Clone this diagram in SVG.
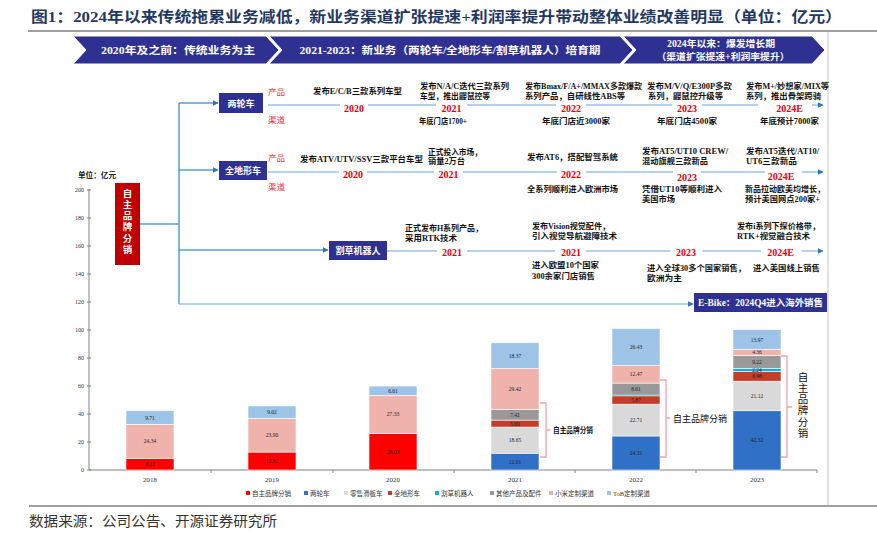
<svg xmlns="http://www.w3.org/2000/svg" width="877" height="533" viewBox="0 0 877 533">
<style>
text{font-family:"Liberation Serif","Noto Sans CJK SC",serif}
.title{font-size:15px;font-weight:bold;fill:#1f3864}
.ban{font-size:10.5px;font-weight:bold;fill:#fff;text-anchor:middle}
.chev{fill:#2f3192;stroke:#fff;stroke-width:1}
.box{fill:#2f3192}
.bt{font-size:9px;font-weight:bold;fill:#fff;text-anchor:middle}
.t{font-size:8px;fill:#111;font-weight:bold}
.pc{font-size:8.5px;fill:#e03a3a}
.yr{font-size:10px;font-weight:bold;fill:#e00010;text-anchor:middle}
.gap{fill:#fff}
.trunk{stroke:#5b9bd5;stroke-width:1.5;fill:none}
.row{stroke:#9dc3e6;stroke-width:1.5;fill:none}
.ax{stroke:#808080;stroke-width:1;fill:none}
.al{font-size:6px;fill:#333;text-anchor:end}
.xl{font-size:7px;fill:#333;text-anchor:middle}
.bl{font-size:5.5px;fill:#222;text-anchor:middle}
.bar rect{stroke:#fff;stroke-width:0.6}
.brk{stroke:#f2a3aa;stroke-width:1.3;fill:none}
.lg{font-size:6.5px;fill:#333}
.c1{fill:#ff0000}.c2{fill:#3070c6}.c3{fill:#d9d9d9}.c4{fill:#c43c2a}.c5{fill:#00b0f0}.c6{fill:#999999}.c7{fill:#efb3ac}.c8{fill:#9dc3e6}
</style>
<defs>
<marker id="ah" markerWidth="6" markerHeight="6" refX="5.5" refY="3" orient="auto" markerUnits="userSpaceOnUse"><path d="M0,0 L6,3 L0,6 z" fill="#2e75b6"/></marker>
</defs>
<rect width="877" height="533" fill="#fff"/>

<!-- title -->
<text class="title" x="31" y="22" textLength="811" lengthAdjust="spacingAndGlyphs">图1：2024年以来传统拖累业务减低，新业务渠道扩张提速+利润率提升带动整体业绩改善明显（单位：亿元）</text>
<line x1="28" y1="31" x2="877" y2="31" stroke="#7f7f7f" stroke-width="1.5"/>
<line x1="828" y1="32" x2="828" y2="505" stroke="#e3e3e3" stroke-width="2"/>

<!-- banner -->
<g id="banner">
<polygon class="chev" points="73,36 266,36 279,50 266,64 73,64 86,50"/>
<polygon class="chev" points="269,36 620,36 633,50 620,64 269,64 282,50"/>
<polygon class="chev" points="623,36 812,36 825,50 812,64 623,64 636,50"/>
<text class="ban" x="178" y="54" textLength="154" lengthAdjust="spacingAndGlyphs">2020年及之前：传统业务为主</text>
<text class="ban" x="450" y="54" textLength="301" lengthAdjust="spacingAndGlyphs">2021-2023：新业务（两轮车/全地形车/割草机器人）培育期</text>
<text class="ban" x="721" y="47" style="font-size:9.5px" textLength="108" lengthAdjust="spacingAndGlyphs">2024年以来：爆发增长期</text>
<text class="ban" x="723" y="60" style="font-size:9.5px" textLength="133" lengthAdjust="spacingAndGlyphs">（渠道扩张提速+利润率提升）</text>
</g>

<!-- connectors -->
<g id="connectors">
<line class="trunk" x1="179" y1="103" x2="179" y2="304"/>
<line class="trunk" x1="140" y1="224" x2="179" y2="224"/>
<line class="trunk" x1="179" y1="103" x2="218" y2="103" marker-end="url(#ah)"/>
<line class="trunk" x1="179" y1="170" x2="218" y2="170" marker-end="url(#ah)"/>
<line class="trunk" x1="179" y1="250" x2="328" y2="250" marker-end="url(#ah)"/>
<line class="row" x1="179" y1="304" x2="693" y2="304" marker-end="url(#ah)"/>
<line class="row" x1="268" y1="105" x2="823" y2="105" marker-end="url(#ah)"/>
<line class="row" x1="268" y1="172" x2="823" y2="172" marker-end="url(#ah)"/>
<line class="row" x1="387" y1="251" x2="823" y2="251" marker-end="url(#ah)"/>
</g>

<!-- nodes -->
<g id="node-brand">
<rect x="115" y="183" width="25" height="82" fill="#c00000"/>
<g class="bt" style="font-size:9.5px">
<text x="127.5" y="197">自</text><text x="127.5" y="208">主</text><text x="127.5" y="219">品</text>
<text x="127.5" y="230">牌</text><text x="127.5" y="242">分</text><text x="127.5" y="253">销</text>
</g>
</g>
<g id="node-twowheel">
<rect class="box" x="219" y="93" width="44" height="20"/>
<text class="bt" x="241" y="106.5">两轮车</text>
</g>
<g id="node-atv">
<rect class="box" x="219" y="161" width="48" height="19"/>
<text class="bt" x="243" y="174">全地形车</text>
</g>
<g id="node-mower">
<rect class="box" x="329" y="241" width="58" height="19"/>
<text class="bt" x="358" y="254">割草机器人</text>
</g>
<g id="node-ebike">
<rect class="box" x="694" y="293" width="133" height="19"/>
<text class="bt" x="760.5" y="306" style="font-size:9.5px" textLength="125" lengthAdjust="spacingAndGlyphs">E-Bike：2024Q4进入海外销售</text>
</g>

<!-- row 1 -->
<g id="row-twowheel">
<text class="pc" x="268" y="95">产品</text>
<text class="pc" x="268" y="123">渠道</text>
<rect class="gap" x="340" y="101" width="28" height="8"/>
<rect class="gap" x="436" y="101" width="31" height="8"/>
<rect class="gap" x="556" y="101" width="30" height="8"/>
<rect class="gap" x="672" y="101" width="30" height="8"/>
<rect class="gap" x="758" y="101" width="54" height="8"/>
<text class="yr" x="354" y="111.5">2020</text>
<text class="yr" x="451.5" y="111.5">2021</text>
<text class="yr" x="571" y="111.5">2022</text>
<text class="yr" x="687" y="111.5">2023</text>
<text class="yr" x="789.5" y="111.5">2024E</text>
<text class="t" x="313" y="94" textLength="89" lengthAdjust="spacingAndGlyphs">发布E/C/B三款系列车型</text>
<text class="t" x="420" y="89" textLength="89" lengthAdjust="spacingAndGlyphs">发布N/A/C迭代三款系列</text>
<text class="t" x="420" y="98.5" textLength="70" lengthAdjust="spacingAndGlyphs">车型，推出鼹鼠控等</text>
<text class="t" x="525" y="89" textLength="117" lengthAdjust="spacingAndGlyphs">发布Bmax/F/A+/MMAX多款爆款</text>
<text class="t" x="525" y="98.5" textLength="100" lengthAdjust="spacingAndGlyphs">系列产品，自研线性ABS等</text>
<text class="t" x="647" y="89" textLength="85" lengthAdjust="spacingAndGlyphs">发布M/V/Q/E300P多款</text>
<text class="t" x="648" y="98.5" textLength="75" lengthAdjust="spacingAndGlyphs">系列，鼹鼠控升级等</text>
<text class="t" x="746" y="89" textLength="83" lengthAdjust="spacingAndGlyphs">发布M+/妙想家/MIX等</text>
<text class="t" x="746" y="98.5" textLength="75" lengthAdjust="spacingAndGlyphs">系列，推出骨架跨骑</text>
<text class="t" x="419" y="124" textLength="48" lengthAdjust="spacingAndGlyphs">年底门店1700+</text>
<text class="t" x="542" y="124" textLength="68" lengthAdjust="spacingAndGlyphs">年底门店近3000家</text>
<text class="t" x="657" y="124" textLength="60" lengthAdjust="spacingAndGlyphs">年底门店4500家</text>
<text class="t" x="760" y="124" textLength="59" lengthAdjust="spacingAndGlyphs">年底预计7000家</text>
</g>

<!-- row 2 -->
<g id="row-atv">
<text class="pc" x="268" y="161">产品</text>
<text class="pc" x="268" y="190">渠道</text>
<rect class="gap" x="339" y="168" width="28" height="8"/>
<rect class="gap" x="434" y="168" width="29" height="8"/>
<rect class="gap" x="557" y="168" width="29" height="8"/>
<rect class="gap" x="673" y="168" width="28" height="8"/>
<rect class="gap" x="765" y="168" width="37" height="8"/>
<text class="yr" x="353" y="178">2020</text>
<text class="yr" x="448.5" y="178">2021</text>
<text class="yr" x="571" y="178">2022</text>
<text class="yr" x="687" y="181">2023</text>
<text class="yr" x="781" y="180">2024E</text>
<text class="t" x="300" y="162" textLength="123" lengthAdjust="spacingAndGlyphs">发布ATV/UTV/SSV三款平台车型</text>
<text class="t" x="428" y="155" textLength="54" lengthAdjust="spacingAndGlyphs">正式投入市场，</text>
<text class="t" x="428" y="164" textLength="37" lengthAdjust="spacingAndGlyphs">销量2万台</text>
<text class="t" x="527" y="160" textLength="91" lengthAdjust="spacingAndGlyphs">发布AT6，搭配智驾系统</text>
<text class="t" x="642" y="154" textLength="86" lengthAdjust="spacingAndGlyphs">发布AT5/UT10 CREW/</text>
<text class="t" x="642" y="164" textLength="66" lengthAdjust="spacingAndGlyphs">混动旗舰三款新品</text>
<text class="t" x="746" y="154" textLength="73" lengthAdjust="spacingAndGlyphs">发布AT5迭代/AT10/</text>
<text class="t" x="746" y="164" textLength="51" lengthAdjust="spacingAndGlyphs">UT6三款新品</text>
<text class="t" x="527" y="192" textLength="91" lengthAdjust="spacingAndGlyphs">全系列顺利进入欧洲市场</text>
<text class="t" x="642" y="192" textLength="80" lengthAdjust="spacingAndGlyphs">凭借UT10等顺利进入</text>
<text class="t" x="642" y="202" textLength="33" lengthAdjust="spacingAndGlyphs">美国市场</text>
<text class="t" x="745" y="192" textLength="80" lengthAdjust="spacingAndGlyphs">新品拉动欧美均增长，</text>
<text class="t" x="745" y="202" textLength="75" lengthAdjust="spacingAndGlyphs">预计美国网点200家+</text>
</g>

<!-- row 3 -->
<g id="row-mower">
<rect class="gap" x="437" y="247" width="30" height="8"/>
<rect class="gap" x="555" y="247" width="31" height="8"/>
<rect class="gap" x="670" y="247" width="32" height="8"/>
<rect class="gap" x="761" y="247" width="41" height="8"/>
<text class="yr" x="452" y="255.5">2021</text>
<text class="yr" x="571" y="255.5">2021</text>
<text class="yr" x="686" y="255.5">2023</text>
<text class="yr" x="780.5" y="255.5">2024E</text>
<text class="t" x="405" y="231" textLength="78" lengthAdjust="spacingAndGlyphs">正式发布H系列产品，</text>
<text class="t" x="405" y="241" textLength="52" lengthAdjust="spacingAndGlyphs">采用RTK技术</text>
<text class="t" x="532" y="229" textLength="78" lengthAdjust="spacingAndGlyphs">发布Vision视觉配件，</text>
<text class="t" x="532" y="239" textLength="85" lengthAdjust="spacingAndGlyphs">引入视觉导航避障技术</text>
<text class="t" x="737" y="229" textLength="83" lengthAdjust="spacingAndGlyphs">发布i系列下探价格带，</text>
<text class="t" x="737" y="239" textLength="73" lengthAdjust="spacingAndGlyphs">RTK+视觉融合技术</text>
<text class="t" x="532" y="268" textLength="67" lengthAdjust="spacingAndGlyphs">进入欧盟10个国家</text>
<text class="t" x="532" y="279" textLength="63" lengthAdjust="spacingAndGlyphs">300余家门店销售</text>
<text class="t" x="647" y="271" textLength="99" lengthAdjust="spacingAndGlyphs">进入全球30多个国家销售，</text>
<text class="t" x="647" y="281" textLength="35" lengthAdjust="spacingAndGlyphs">欧洲为主</text>
<text class="t" x="753" y="271" textLength="67" lengthAdjust="spacingAndGlyphs">进入美国线上销售</text>
</g>

<!-- chart axes -->
<g id="axes">
<text x="78" y="178" style="font-size:7.5px;fill:#222;font-weight:bold" textLength="38" lengthAdjust="spacingAndGlyphs">单位：亿元</text>
<line class="ax" x1="89" y1="189" x2="89" y2="470"/>
<line class="ax" x1="89" y1="470" x2="817" y2="470"/>
<path class="ax" d="M87,190H91M87,218H91M87,246H91M87,274H91M87,302H91M87,330H91M87,358H91M87,386H91M87,414H91M87,442H91M87,470H91"/>
<path class="ax" d="M211,470V473M333,470V473M454,470V473M575,470V473M696,470V473M817,470V473"/>
<text class="al" x="84" y="192">200</text><text class="al" x="84" y="220">180</text><text class="al" x="84" y="248">160</text>
<text class="al" x="84" y="276">140</text><text class="al" x="84" y="304">120</text><text class="al" x="84" y="332">100</text>
<text class="al" x="84" y="360">80</text><text class="al" x="84" y="388">60</text><text class="al" x="84" y="416">40</text>
<text class="al" x="84" y="444">20</text><text class="al" x="84" y="472">0</text>
<text class="xl" x="150" y="482">2018</text><text class="xl" x="272" y="482">2019</text><text class="xl" x="393" y="482">2020</text>
<text class="xl" x="515" y="482">2021</text><text class="xl" x="636" y="482">2022</text><text class="xl" x="757" y="482">2023</text>
</g>

<!-- bars -->
<g id="bar-2018" class="bar">
<rect class="c1" x="126" y="458.35" width="48" height="11.65"/>
<rect class="c7" x="126" y="424.27" width="48" height="34.08"/>
<rect class="c8" x="126" y="410.68" width="48" height="13.59"/>
<text class="bl" x="150" y="466.2">8.32</text><text class="bl" x="150" y="443.3">24.34</text><text class="bl" x="150" y="419.5">9.71</text>
</g>
<g id="bar-2019" class="bar">
<rect class="c1" x="248" y="452.05" width="48" height="17.95"/>
<rect class="c7" x="248" y="418.59" width="48" height="33.46"/>
<rect class="c8" x="248" y="405.96" width="48" height="12.63"/>
<text class="bl" x="272" y="463">12.82</text><text class="bl" x="272" y="437.3">23.90</text><text class="bl" x="272" y="414.3">9.02</text>
</g>
<g id="bar-2020" class="bar">
<rect class="c1" x="369" y="433.56" width="48" height="36.44"/>
<rect class="c7" x="369" y="395.30" width="48" height="38.26"/>
<rect class="c8" x="369" y="386.05" width="48" height="9.25"/>
<text class="bl" x="393" y="453.8">26.03</text><text class="bl" x="393" y="416.4">27.33</text><text class="bl" x="393" y="392.7">6.61</text>
</g>
<g id="bar-2021" class="bar">
<rect class="c2" x="491" y="453.19" width="48" height="16.81"/>
<rect class="c3" x="491" y="427.08" width="48" height="26.11"/>
<rect class="c4" x="491" y="420.08" width="48" height="7"/>
<rect class="c6" x="491" y="409.69" width="48" height="10.39"/>
<rect class="c7" x="491" y="368.50" width="48" height="41.19"/>
<rect class="c8" x="491" y="342.78" width="48" height="25.72"/>
<text class="bl" x="515" y="463.6">12.01</text><text class="bl" x="515" y="442.1">18.65</text><text class="bl" x="515" y="425.6">5.00</text>
<text class="bl" x="515" y="416.9">7.42</text><text class="bl" x="515" y="391.1">29.42</text><text class="bl" x="515" y="357.6">18.37</text>
</g>
<g id="bar-2022" class="bar">
<rect class="c2" x="612" y="435.97" width="48" height="34.03"/>
<rect class="c3" x="612" y="404.18" width="48" height="31.79"/>
<rect class="c4" x="612" y="395.96" width="48" height="8.22"/>
<rect class="c5" x="612" y="395.12" width="48" height="0.84" style="stroke:none"/>
<rect class="c6" x="612" y="383.07" width="48" height="12.05"/>
<rect class="c7" x="612" y="365.61" width="48" height="17.46"/>
<rect class="c8" x="612" y="328.61" width="48" height="37"/>
<text class="bl" x="636" y="455">24.31</text><text class="bl" x="636" y="422.1">22.71</text><text class="bl" x="636" y="402.1">5.87</text>
<text class="bl" x="636" y="391.1">8.61</text><text class="bl" x="636" y="376.3">12.47</text><text class="bl" x="636" y="349.1">26.43</text>
</g>
<g id="bar-2023" class="bar">
<rect class="c2" x="733" y="410.75" width="48" height="59.25"/>
<rect class="c3" x="733" y="381.18" width="48" height="29.57"/>
<rect class="c4" x="733" y="371.41" width="48" height="9.77"/>
<rect class="c5" x="733" y="368.27" width="48" height="3.14"/>
<rect class="c6" x="733" y="355.36" width="48" height="12.91"/>
<rect class="c7" x="733" y="349.26" width="48" height="6.10"/>
<rect class="c8" x="733" y="329.70" width="48" height="19.56"/>
<text class="bl" x="757" y="442.4">42.32</text><text class="bl" x="757" y="398">21.12</text><text class="bl" x="757" y="378.3">6.98</text>
<text class="bl" x="757" y="371.8">2.24</text><text class="bl" x="757" y="363.8">9.22</text><text class="bl" x="757" y="354.3">4.36</text><text class="bl" x="757" y="341.5">13.97</text>
</g>

<!-- brackets -->
<g id="bracket-2021">
<path class="brk" d="M540,403H546V457H540M546,430H550"/>
<text x="553" y="433" style="font-size:7.5px;fill:#111;font-weight:bold" textLength="40" lengthAdjust="spacingAndGlyphs">自主品牌分销</text>
</g>
<g id="bracket-2022">
<path class="brk" d="M660,380H666V457H660M666,418H670"/>
<text x="673" y="421.5" style="font-size:9.5px;fill:#111" textLength="54" lengthAdjust="spacingAndGlyphs">自主品牌分销</text>
</g>
<g id="bracket-2023">
<path class="brk" d="M781,356H787V457H781M787,407H792"/>
<g style="font-size:10.5px;fill:#111;text-anchor:middle">
<text x="803" y="381">自</text><text x="803" y="392">主</text><text x="803" y="403">品</text>
<text x="803" y="414">牌</text><text x="803" y="426">分</text><text x="803" y="437">销</text>
</g>
</g>

<!-- legend -->
<g id="legend">
<rect class="c1" x="246" y="491" width="4" height="4"/><text class="lg" x="252" y="495.5">自主品牌分销</text>
<rect class="c2" x="304" y="491" width="4" height="4"/><text class="lg" x="310" y="495.5">两轮车</text>
<rect class="c3" x="344" y="491" width="4" height="4"/><text class="lg" x="350" y="495.5">零售滑板车</text>
<rect class="c4" x="388" y="491" width="4" height="4"/><text class="lg" x="394" y="495.5">全地形车</text>
<rect class="c5" x="435" y="491" width="4" height="4"/><text class="lg" x="441" y="495.5">割草机器人</text>
<rect class="c6" x="490" y="491" width="4" height="4"/><text class="lg" x="496" y="495.5">其他产品及配件</text>
<rect class="c7" x="549" y="491" width="4" height="4"/><text class="lg" x="555" y="495.5">小米定制渠道</text>
<rect class="c8" x="607" y="491" width="4" height="4"/><text class="lg" x="613" y="495.5">ToB定制渠道</text>
</g>

<!-- source -->
<line x1="29" y1="506" x2="877" y2="506" stroke="#404040" stroke-width="1.2"/>
<text x="29" y="526" style="font-size:14px;fill:#333" textLength="248" lengthAdjust="spacingAndGlyphs">数据来源：公司公告、开源证券研究所</text>
</svg>
